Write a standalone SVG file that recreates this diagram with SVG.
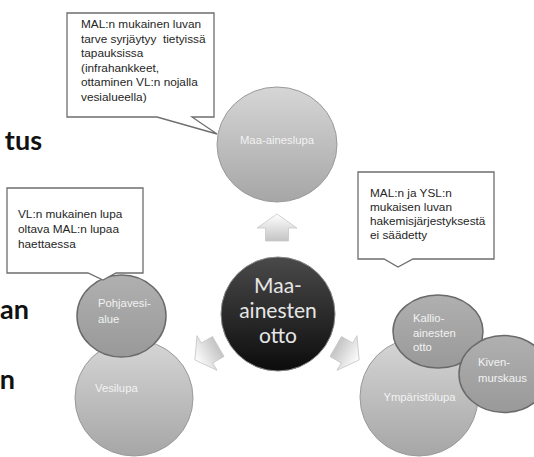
<svg xmlns="http://www.w3.org/2000/svg" width="534" height="457" viewBox="0 0 534 457">
<defs>
<linearGradient id="gLight" x1="0" y1="0" x2="0" y2="1">
<stop offset="0" stop-color="#d6d6d6"/><stop offset="1" stop-color="#a6a6a6"/>
</linearGradient>
<linearGradient id="gMid" x1="0" y1="0" x2="0" y2="1">
<stop offset="0" stop-color="#b0b0b0"/><stop offset="1" stop-color="#999999"/>
</linearGradient>
<linearGradient id="gDark" x1="0" y1="0" x2="0" y2="1">
<stop offset="0" stop-color="#4a4a4a"/><stop offset="1" stop-color="#0c0c0c"/>
</linearGradient>
<linearGradient id="gArrow" x1="0" y1="0" x2="0" y2="1">
<stop offset="0" stop-color="#ffffff"/><stop offset="1" stop-color="#c4c4c4"/>
</linearGradient>
<polygon id="arr" points="0,-14 20,0 11.5,0 11.5,13 -11.5,13 -11.5,0 -20,0"/>
</defs>
<style>
.bg{font-family:"Lato","Liberation Sans",sans-serif;font-weight:bold;font-size:27px;fill:#111}
.call{fill:#fff;stroke:#6e6e6e;stroke-width:1.3}
.ct{font-family:"Liberation Sans",Arial,sans-serif;font-size:11.8px;fill:#262626;white-space:pre}
.big{fill:url(#gLight);stroke:#9a9a9a;stroke-width:1}
.small{fill:url(#gMid);stroke:#6a6a6a;stroke-width:1.5}
.ctr{fill:url(#gDark);stroke:#888;stroke-width:1}
.nt{font-family:"Liberation Sans",Arial,sans-serif;font-size:11.3px;fill:#f2f2f2}
.ctt{font-family:"Lato","Liberation Sans",sans-serif;font-size:21px;fill:#e6e6e6;text-anchor:middle}
.arrow{fill:url(#gArrow);stroke:#c8c8c8;stroke-width:0.8}
</style>
<rect width="534" height="457" fill="#fff"/>
<g id="background-text">
<text class="bg" x="42" y="150" text-anchor="end">tus</text>
<text class="bg" x="29" y="319" text-anchor="end">an</text>
<text class="bg" x="15" y="389" text-anchor="end">n</text>
</g>
<g id="connectors">
<use href="#arr" class="arrow" transform="translate(277,228)"/>
<use href="#arr" class="arrow" transform="translate(207,353) rotate(-120)"/>
<use href="#arr" class="arrow" transform="translate(347,353) rotate(120)"/>
</g>
<g id="node-maa-aineslupa">
<ellipse class="big" cx="277" cy="144.5" rx="60" ry="57.5"/>
<text class="nt" x="277" y="144" text-anchor="middle">Maa-aineslupa</text>
</g>
<g id="node-center">
<circle class="ctr" cx="278" cy="314" r="57"/>
<text class="ctt" x="278" y="293">Maa-</text>
<text class="ctt" x="278" y="318">ainesten</text>
<text class="ctt" x="278" y="343">otto</text>
</g>
<g id="node-vesilupa">
<ellipse class="big" cx="134" cy="398" rx="59" ry="58"/>
<text class="nt" x="95" y="392">Vesilupa</text>
</g>
<g id="node-pohjavesialue">
<ellipse class="small" cx="121.5" cy="316" rx="44.5" ry="41"/>
<text class="nt" x="98" y="307">Pohjavesi-</text>
<text class="nt" x="98" y="323">alue</text>
</g>
<g id="node-ymparistolupa">
<ellipse class="big" cx="419" cy="397" rx="59" ry="59"/>
<text class="nt" x="419.5" y="401" text-anchor="middle">Ympäristölupa</text>
</g>
<g id="node-kallio">
<ellipse class="small" cx="438" cy="331.5" rx="45" ry="36.5"/>
<text class="nt" x="413" y="322">Kallio-</text>
<text class="nt" x="413" y="336.5">ainesten</text>
<text class="nt" x="413" y="351">otto</text>
</g>
<g id="node-kivenmurskaus">
<ellipse class="small" cx="504" cy="374" rx="45" ry="38.5"/>
<text class="nt" x="478" y="366">Kiven-</text>
<text class="nt" x="478" y="382">murskaus</text>
</g>
<g id="callout-top">
<path class="call" d="M67,13 H214 V117 H192 L217,134 L157,117 H67 Z"/>
<text class="ct" x="81" y="28">MAL:n mukainen luvan</text>
<text class="ct" x="81" y="42.5">tarve syrjäytyy  tietyissä</text>
<text class="ct" x="81" y="57">tapauksissa</text>
<text class="ct" x="81" y="71.5">(infrahankkeet,</text>
<text class="ct" x="81" y="86">ottaminen VL:n nojalla</text>
<text class="ct" x="81" y="100.5">vesialueella)</text>
</g>
<g id="callout-left">
<path class="call" d="M7,188 H143 V273 H116 L103,280 L88,273 H7 Z"/>
<text class="ct" x="18" y="218">VL:n mukainen lupa</text>
<text class="ct" x="18" y="233">oltava MAL:n lupaa</text>
<text class="ct" x="18" y="248">haettaessa</text>
</g>
<g id="callout-right">
<path class="call" d="M358,172 H494 V259 H413 L398,267 L384,259 H358 Z"/>
<text class="ct" x="370" y="197">MAL:n ja YSL:n</text>
<text class="ct" x="370" y="211">mukaisen luvan</text>
<text class="ct" x="370" y="225">hakemisjärjestyksestä</text>
<text class="ct" x="370" y="239">ei säädetty</text>
</g>
</svg>
